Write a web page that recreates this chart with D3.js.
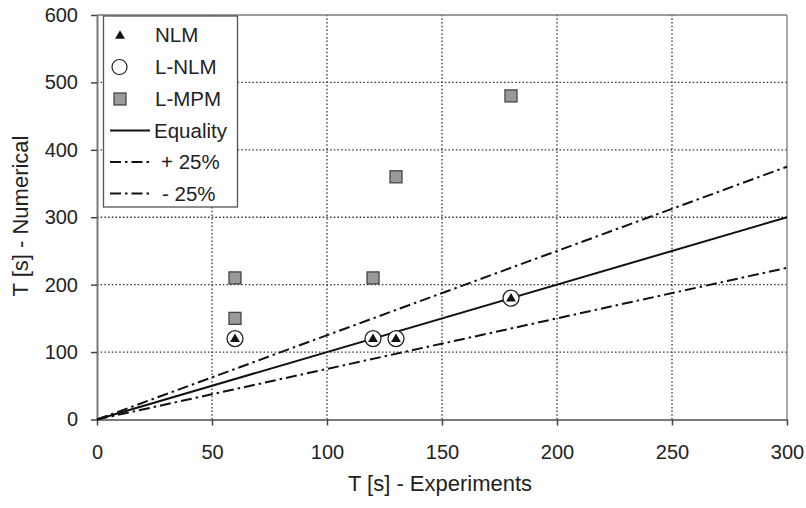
<!DOCTYPE html>
<html><head><meta charset="utf-8">
<script src="https://cdn.jsdelivr.net/npm/d3@7"></script>
<style>
body{margin:0;background:#fff;}
svg text{font-family:"Liberation Sans",Arial,sans-serif;fill:#222;}
</style></head>
<body><div id="chart"></div>
<script>
// ---- data ----
const xTicks = [0, 50, 100, 150, 200, 250, 300];
const yTicks = [0, 100, 200, 300, 400, 500, 600];
const nlmX = [60, 120, 130, 180];
const nlmY = [120, 120, 120, 180];
const lnlmX = [60, 120, 130, 180];
const lnlmY = [120, 120, 120, 180];
const lmpmX = [60, 60, 120, 130, 180];
const lmpmY = [210, 150, 210, 360, 480];
const refX = [0, 300];
const equalityFactor = 1.0;
const plusFactor = 1.25;
const minusFactor = 0.75;
const legendLabels = ["NLM", "L-NLM", "L-MPM", "Equality", "+ 25%", "- 25%"];
const xTitle = "T [s] - Experiments";
const yTitle = "T [s] - Numerical";

// ---- layout ----
const W = 806, H = 508;
const m = {left: 97, right: 19, top: 15, bottom: 88.5};
const svg = d3.select("#chart").append("svg").attr("width", W).attr("height", H);
const x = d3.scaleLinear().domain([0, 300]).range([m.left, W - m.right]);
const y = d3.scaleLinear().domain([0, 600]).range([H - m.bottom, m.top]);
const axisCol = "#7a7a7a";

// grid
const g = svg.append("g");
g.selectAll(".gx").data(xTicks.slice(1, -1)).join("line")
  .attr("x1", d => x(d)).attr("x2", d => x(d)).attr("y1", y(0)).attr("y2", y(600))
  .attr("stroke", "#333").attr("stroke-width", 1.3).attr("stroke-dasharray", "1.5,2.2");
g.selectAll(".gy").data(yTicks.slice(1, -1)).join("line")
  .attr("y1", d => y(d)).attr("y2", d => y(d)).attr("x1", x(0)).attr("x2", x(300))
  .attr("stroke", "#333").attr("stroke-width", 1.3).attr("stroke-dasharray", "1.5,2.2");
// frame top/right
svg.append("line").attr("x1", x(0)).attr("x2", x(300)).attr("y1", y(600)).attr("y2", y(600))
  .attr("stroke", axisCol).attr("stroke-width", 1.3);
svg.append("line").attr("x1", x(300)).attr("x2", x(300)).attr("y1", y(600)).attr("y2", y(0))
  .attr("stroke", axisCol).attr("stroke-width", 1.3);

// axes
const xAxis = svg.append("g").attr("transform", `translate(0,${y(0)})`)
  .call(d3.axisBottom(x).tickValues(xTicks).tickSize(6).tickPadding(19).tickSizeOuter(0));
const yAxis = svg.append("g").attr("transform", `translate(${x(0)},0)`)
  .call(d3.axisLeft(y).tickValues(yTicks).tickSize(6).tickPadding(13).tickSizeOuter(0));
[xAxis, yAxis].forEach(a => {
  a.select(".domain").attr("stroke", axisCol).attr("stroke-width", 2);
  a.selectAll(".tick line").attr("stroke", "#444").attr("stroke-width", 1.5);
  a.selectAll(".tick text").attr("font-size", 20).attr("fill", "#222")
    .attr("font-family", "Liberation Sans, Arial, sans-serif");
});

// reference lines
const line = d3.line().x(d => x(d[0])).y(d => y(d[1]));
const refs = [
  {f: equalityFactor, dash: null},
  {f: plusFactor, dash: "11,4,2.5,4"},
  {f: minusFactor, dash: "11,4,2.5,4"}
];
refs.forEach(r => {
  svg.append("path").datum(refX.map(v => [v, v * r.f])).attr("d", line)
    .attr("fill", "none").attr("stroke", "#111").attr("stroke-width", 2)
    .attr("stroke-dasharray", r.dash);
});

// markers
const sq = 12;
svg.selectAll(".sq").data(lmpmX.map((v, i) => [v, lmpmY[i]])).join("rect")
  .attr("x", d => x(d[0]) - sq / 2).attr("y", d => y(d[1]) - sq / 2)
  .attr("width", sq).attr("height", sq)
  .attr("fill", "#9a9a9a").attr("stroke", "#444").attr("stroke-width", 1.3);
svg.selectAll(".ci").data(lnlmX.map((v, i) => [v, lnlmY[i]])).join("circle")
  .attr("cx", d => x(d[0])).attr("cy", d => y(d[1])).attr("r", 8)
  .attr("fill", "#fff").attr("stroke", "#222").attr("stroke-width", 1.3);
const tri = d3.symbol().type(d3.symbolTriangle).size(42);
svg.selectAll(".tr").data(nlmX.map((v, i) => [v, nlmY[i]])).join("path")
  .attr("d", tri).attr("transform", d => `translate(${x(d[0])},${y(d[1]) + 0.5})`)
  .attr("fill", "#111");

// legend
const lg = svg.append("g");
lg.append("rect").attr("x", 103.5).attr("y", 16).attr("width", 134).attr("height", 191)
  .attr("fill", "#fff").attr("stroke", "#555").attr("stroke-width", 1.3);
const rowY = [35, 67, 99, 130.5, 162, 193.5];
const textX = [155, 155, 155, 154, 161, 162];
legendLabels.forEach((t, i) => {
  lg.append("text").attr("x", textX[i]).attr("y", rowY[i]).attr("dy", "0.35em")
    .attr("font-size", 20.5).text(t);
});
lg.append("path").attr("d", tri).attr("transform", `translate(120,${rowY[0] + 1})`).attr("fill", "#111");
lg.append("circle").attr("cx", 119.5).attr("cy", rowY[1]).attr("r", 7.5)
  .attr("fill", "#fff").attr("stroke", "#222").attr("stroke-width", 1.2);
lg.append("rect").attr("x", 120 - 6).attr("y", rowY[2] - 6).attr("width", 12).attr("height", 12)
  .attr("fill", "#9a9a9a").attr("stroke", "#444").attr("stroke-width", 1.3);
[[null, rowY[3]], ["11,4,2.5,4", rowY[4]], ["11,4,2.5,4", rowY[5]]].forEach(([dash, yy]) => {
  lg.append("line").attr("x1", 110).attr("x2", 150).attr("y1", yy).attr("y2", yy)
    .attr("stroke", "#111").attr("stroke-width", 2).attr("stroke-dasharray", dash);
});

// titles
svg.append("text").attr("x", 440).attr("y", 483).attr("dy", "0.35em")
  .attr("text-anchor", "middle").attr("font-size", 22).text(xTitle);
svg.append("text").attr("transform", "translate(20,216) rotate(-90)").attr("dy", "0.35em")
  .attr("text-anchor", "middle").attr("font-size", 22).text(yTitle);
</script></body></html>
